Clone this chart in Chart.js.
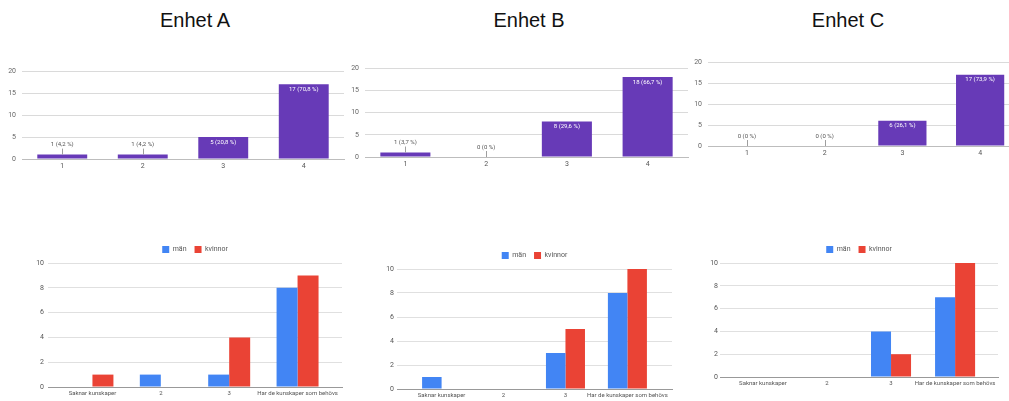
<!DOCTYPE html>
<html>
<head>
<meta charset="utf-8">
<script src="https://cdn.jsdelivr.net/npm/chart.js@4.4.1/dist/chart.umd.min.js"></script>
<style>
  html, body { margin: 0; padding: 0; background: #fff; }
  body { width: 1009px; height: 401px; position: relative; overflow: hidden; font-family: "Liberation Sans", Arial, sans-serif; }
  .title { position: absolute; top: 9px; font-size: 20px; line-height: 23px; color: #111; transform: translateX(-50%); white-space: nowrap; }
  .box { position: absolute; }
</style>
</head>
<body>
<div class="title" style="left:195px">Enhet A</div>
<div class="title" style="left:529px">Enhet B</div>
<div class="title" style="left:848px">Enhet C</div>

<div class="box" style="left:0;top:61px;width:346px;height:112px"><canvas id="topA"></canvas></div>
<div class="box" style="left:343px;top:58px;width:347px;height:113px"><canvas id="topB"></canvas></div>
<div class="box" style="left:686px;top:52px;width:335px;height:108px"><canvas id="topC"></canvas></div>

<div class="box" style="left:0;top:238px;width:344px;height:163px"><canvas id="botA"></canvas></div>
<div class="box" style="left:367px;top:244px;width:307px;height:157px"><canvas id="botB"></canvas></div>
<div class="box" style="left:690px;top:238px;width:310px;height:153px"><canvas id="botC"></canvas></div>

<script>
'use strict';

// ── Data ───────────────────────────────────────────────────────
const TOP_CATS   = ['1', '2', '3', '4'];
const TOP_TICKS  = [0, 5, 10, 15, 20];

const countsA = [1, 1, 5, 17];
const pctA    = [4.2, 4.2, 20.8, 70.8];
const countsB = [1, 0, 8, 18];
const pctB    = [3.7, 0, 29.6, 66.7];
const countsC = [0, 0, 6, 17];
const pctC    = [0, 0, 26.1, 73.9];

const GROUP_CATS  = ['Saknar kunskaper', '2', '3', 'Har de kunskaper som behövs'];
const GROUP_TICKS = [0, 2, 4, 6, 8, 10];
const SERIES      = ['män', 'kvinnor'];

const manA     = [0, 1, 1, 8];
const kvinnorA = [1, 0, 4, 9];
const manB     = [1, 0, 3, 8];
const kvinnorB = [0, 0, 5, 10];
const manC     = [0, 0, 4, 7];
const kvinnorC = [0, 0, 2, 10];

const PURPLE = '#673ab7';
const BLUE   = '#4285f4';
const RED    = '#ea4335';
const FONT   = '"Roboto", "Liberation Sans", Arial, sans-serif';

// ── Bar value labels (top charts) ──────────────────────────────
const barLabels = {
  id: 'barLabels',
  afterDatasetsDraw(chart, args, opts) {
    const ctx  = chart.ctx;
    const vals = chart.data.datasets[0].data;
    ctx.save();
    ctx.font = '6px ' + FONT;
    ctx.textAlign = 'center';
    ctx.textBaseline = 'middle';
    chart.getDatasetMeta(0).data.forEach((bar, i) => {
      const text = `${vals[i]} (${String(opts.pcts[i]).replace('.', ',')} %)`;
      if (bar.base - bar.y > 14) {
        ctx.fillStyle = '#fff';
        ctx.fillText(text, bar.x, bar.y + 5);
      } else {
        const lx = Math.round(bar.x) + 0.5;
        ctx.strokeStyle = '#9e9e9e';
        ctx.lineWidth = 1;
        ctx.beginPath();
        ctx.moveTo(lx, bar.y);
        ctx.lineTo(lx, bar.y - 6);
        ctx.stroke();
        ctx.fillStyle = '#555';
        ctx.fillText(text, bar.x, bar.y - 10);
      }
    });
    ctx.restore();
  },
};

function topChart(id, counts, pcts) {
  const max = TOP_TICKS[TOP_TICKS.length - 1];
  const major = TOP_TICKS[1] - TOP_TICKS[0];
  return new Chart(document.getElementById(id), {
    type: 'bar',
    data: {
      labels: TOP_CATS,
      datasets: [{
        data: counts,
        backgroundColor: PURPLE,
        categoryPercentage: 1,
        barPercentage: 0.62,
      }],
    },
    options: {
      responsive: true, maintainAspectRatio: false, animation: false,
      layout: { padding: { top: 10, right: 2, left: 0, bottom: 0 } },
      plugins: { legend: { display: false }, tooltip: { enabled: false }, barLabels: { pcts } },
      scales: {
        x: {
          grid: { display: false, drawTicks: false },
          border: { color: '#bdbdbd' },
          ticks: { font: { size: 7, family: FONT }, color: '#555', padding: 3 },
          afterFit: s => { s.height = 14; },
        },
        y: {
          min: 0, max,
          border: { display: false },
          grid: { drawTicks: false, color: c => (c.tick.value % major === 0 ? '#dadada' : '#f0f0f0') },
          ticks: {
            stepSize: major / 2, padding: 6,
            font: { size: 7, family: FONT }, color: '#666',
            callback: v => (TOP_TICKS.includes(v) ? v : ''),
          },
          afterFit: s => { s.width = 22; },
        },
      },
    },
    plugins: [barLabels],
  });
}

function groupChart(id, man, kvinnor, g) {
  const pts = arr => arr.map((v, i) => ({ x: i, y: v }));
  return new Chart(document.getElementById(id), {
    type: 'bar',
    data: {
      datasets: [
        { label: SERIES[0], data: pts(man),     backgroundColor: BLUE, categoryPercentage: g.cat, barPercentage: 1 },
        { label: SERIES[1], data: pts(kvinnor), backgroundColor: RED,  categoryPercentage: g.cat, barPercentage: 1 },
      ],
    },
    options: {
      responsive: true, maintainAspectRatio: false, animation: false,
      layout: { padding: { top: 0, right: 2, left: 0, bottom: 0 } },
      plugins: {
        tooltip: { enabled: false },
        legend: {
          position: 'top', fullSize: false,
          labels: { boxWidth: 7, boxHeight: 7, padding: 8, color: '#555', font: { size: 7, family: FONT } },
        },
      },
      scales: {
        x: {
          type: 'linear', offset: false,
          min: -0.5 - g.edge, max: GROUP_CATS.length - 0.5 + g.edge,
          grid: { display: false, drawTicks: false, offset: false },
          border: { color: '#999' },
          ticks: {
            stepSize: 1, includeBounds: true, autoSkip: false, maxRotation: 0,
            padding: 3, font: { size: 6, family: FONT }, color: '#555',
            callback: v => (Number.isInteger(v) ? GROUP_CATS[v] : ''),
          },
          // keep only the category positions as ticks (bounds stay as the axis range)
          afterBuildTicks: s => { s.ticks = s.ticks.filter(t => Number.isInteger(t.value)); },
          afterFit: s => { s.height = g.xh; s.paddingLeft = 0; s.paddingRight = 0; },
        },
        y: {
          min: 0, max: GROUP_TICKS[GROUP_TICKS.length - 1],
          border: { display: false },
          grid: { drawTicks: false, color: '#e0e0e0' },
          ticks: {
            stepSize: GROUP_TICKS[1] - GROUP_TICKS[0], padding: g.yp,
            font: { size: 7, family: FONT }, color: '#555',
          },
          afterFit: s => { s.width = g.yw; },
        },
      },
    },
  });
}

// ── Init ───────────────────────────────────────────────────────
topChart('topA', countsA, pctA);
topChart('topB', countsB, pctB);
topChart('topC', countsC, pctC);

groupChart('botA', manA, kvinnorA, { cat: 0.614, edge: 0.15, xh: 14, yw: 48, yp: 4 });
groupChart('botB', manB, kvinnorB, { cat: 0.63,  edge: 0.22, xh: 12, yw: 30, yp: 3 });
groupChart('botC', manC, kvinnorC, { cat: 0.625, edge: 0.17, xh: 14, yw: 30, yp: 2 });
</script>
</body>
</html>
